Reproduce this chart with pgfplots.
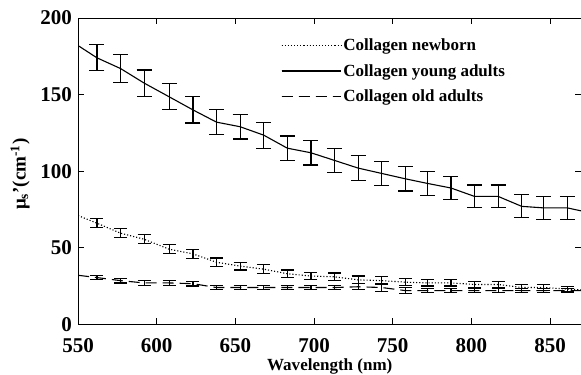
\documentclass[border=0pt]{standalone}
\usepackage{pgfplots}
\pgfplotsset{compat=1.18}
\usepackage{fontspec}
\setmainfont{Liberation Serif}
\begin{document}
\begin{tikzpicture}[x=1pt,y=1pt]
\begin{axis}[
  at={(0,0)}, anchor=south west,
  scale only axis, width=503pt, height=306pt,
  xmin=550, xmax=870, ymin=0, ymax=200,
  xtick={550,600,650,700,750,800,850},
  ytick={0,50,100,150,200},
  minor tick num=0,
  tick align=inside, major tick length=6pt,
  axis line style={line width=1pt}, tick style={line width=1pt, black},
  /pgf/number format/assume math mode=true,
  ticklabel style={font=\fontsize{21}{21}\selectfont\bfseries},
  xticklabel style={anchor=base, yshift=-28pt},
  yticklabel style={anchor=east, xshift=-6pt, inner sep=0pt},
  xlabel={Wavelength (nm)},
  ylabel={μ\textsubscript{s}'(cm\textsuperscript{-1})},
  xlabel style={font=\fontsize{17}{17}\selectfont\bfseries, at={(axis description cs:0.5,0)}, anchor=base, yshift=-46pt},
  ylabel style={font=\fontsize{19}{19}\selectfont\bfseries, at={(axis description cs:-0.1153,0.49)}, anchor=center},
  legend style={draw=none, fill=none, at={(0.397,0.945)}, anchor=north west,
    font=\fontsize{17}{17}\selectfont\bfseries, row sep=8pt},
  legend cell align=left,
  legend image code/.code={\draw[#1] (0pt,0pt) -- (55pt,0pt); \path (0pt,0pt) -- (59pt,0pt);},
]
% lines
\addplot[black, line width=1.1pt, dotted] coordinates {
(550,71) (562,66) (577,59.5) (592,55.5) (608,49) (623,46) (638,40.5) (653,38) (668,36) (683,33) (698,31.5) (713,31) (728,29) (743,28.5) (758,27.5) (772,27) (787,27) (802,26) (817,26) (832,24) (846,24) (861,23) (870,22.5)};
\addlegendentry{Collagen newborn}
\addplot[black, line width=1.1pt] coordinates {
(550,182) (562,174) (577,167) (592,157.5) (608,148.5) (623,140) (638,132) (653,129) (668,123.5) (683,115) (698,112) (713,107) (728,102) (743,98.5) (758,95) (772,92) (787,89) (802,83.5) (817,83.5) (832,77) (846,76) (861,76) (870,74)};
\addlegendentry{Collagen young adults}
\addplot[black, line width=1.1pt, dash pattern=on 11pt off 6pt] coordinates {
(550,32) (562,30.5) (577,28.5) (592,27) (608,27) (623,26.5) (638,24) (653,24) (668,24) (683,24) (698,24) (713,24) (728,24.5) (743,24) (758,22) (772,22) (787,22) (802,22) (817,22) (832,22) (846,22) (861,22) (870,22)};
\addlegendentry{Collagen old adults}
% error bars
\addplot[forget plot, draw=none, mark=none, error bars/.cd, y dir=both, y explicit,
  error bar style={line width=1.2pt, black},
  error mark options={rotate=90, mark size=7.5pt, line width=1.2pt, black}]
 coordinates {
(562,174) +- (0,8.5) (577,167) +- (0,9) (592,157.5) +- (0,8.5) (608,148.5) +- (0,8.5) (623,140) +- (0,8.5) (638,132) +- (0,8) (653,129) +- (0,8) (668,123.5) +- (0,8.5) (683,115) +- (0,8) (698,112) +- (0,8) (713,107) +- (0,8) (728,102) +- (0,8) (743,98.5) +- (0,8) (758,95) +- (0,8) (772,92) +- (0,8) (787,89) +- (0,7.5) (802,83.5) +- (0,7.5) (817,83.5) +- (0,7.5) (832,77) +- (0,7.5) (846,76) +- (0,7.5) (861,76) +- (0,7.5)};
\addplot[forget plot, draw=none, mark=none, error bars/.cd, y dir=both, y explicit,
  error bar style={line width=1.2pt, black},
  error mark options={rotate=90, mark size=6.5pt, line width=1.2pt, black}]
 coordinates {
(562,66) +- (0,3) (577,59.5) +- (0,3) (592,55.5) +- (0,3) (608,49) +- (0,3) (623,46) +- (0,2.8) (638,40.5) +- (0,2.8) (653,38) +- (0,2.5) (668,36) +- (0,2.8) (683,33) +- (0,2.5) (698,31.5) +- (0,2.5) (713,31) +- (0,2.5) (728,29) +- (0,2.5) (743,28.5) +- (0,2.5) (758,27.5) +- (0,2.3) (772,27) +- (0,2) (787,27) +- (0,2) (802,26) +- (0,2) (817,26) +- (0,2) (832,24) +- (0,2) (846,24) +- (0,1.8) (861,23) +- (0,1.5)};
\addplot[forget plot, draw=none, mark=none, error bars/.cd, y dir=both, y explicit,
  error bar style={line width=1.2pt, black},
  error mark options={rotate=90, mark size=6.5pt, line width=1.2pt, black}]
 coordinates {
(562,30.5) +- (0,1.5) (577,28.5) +- (0,1.5) (592,27) +- (0,1.5) (608,27) +- (0,1.5) (623,26.5) +- (0,1.5) (638,24) +- (0,1.5) (653,24) +- (0,1.5) (668,24) +- (0,1.5) (683,24) +- (0,1.5) (698,24) +- (0,1.5) (713,24) +- (0,1.5) (728,24.5) +- (0,2) (743,24) +- (0,2.5) (758,22) +- (0,2) (772,22) +- (0,1.5) (787,22) +- (0,1.5) (802,22) +- (0,1.5) (817,22) +- (0,1.5) (832,22) +- (0,1.5) (846,22) +- (0,1.5) (861,22) +- (0,1.5)};
\end{axis}
\pgfresetboundingbox
\path (-78pt,-50pt) rectangle (502.5pt,324pt);
\end{tikzpicture}
\end{document}
